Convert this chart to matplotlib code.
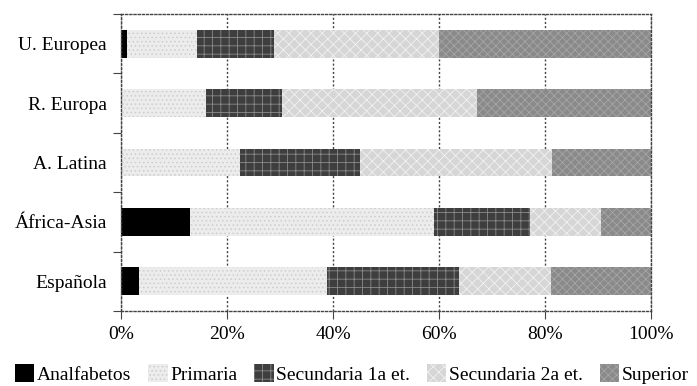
import matplotlib
matplotlib.use("Agg")
import matplotlib.pyplot as plt
import numpy as np
from matplotlib.ticker import FixedLocator, PercentFormatter

plt.rcParams['font.family'] = ['Liberation Serif', 'DejaVu Serif']
plt.rcParams['hatch.linewidth'] = 0.6

# data (percent of each group)
groups = ["U. Europea", "R. Europa", "A. Latina", "África-Asia", "Española"]
analfabetos = [1.1, 0.0, 0.0, 13.0, 3.4]
primaria = [13.2, 16.0, 22.5, 46.0, 35.4]
secundaria_1 = [14.6, 14.4, 22.6, 18.1, 24.9]
secundaria_2 = [31.1, 36.8, 36.2, 13.4, 17.4]
superior = [40.0, 32.8, 18.7, 9.5, 18.9]

series = [
    ("Analfabetos", analfabetos, "#000000", "#000000", None),
    ("Primaria", primaria, "#ececec", "#cdcdcd", "...."),
    ("Secundaria 1a et.", secundaria_1, "#3e3e3e", "#8a8a8a", "++"),
    ("Secundaria 2a et.", secundaria_2, "#d6d6d6", "#f2f2f2", "xxx"),
    ("Superior", superior, "#8a8a8a", "#a6a6a6", "xxxx"),
]

fig = plt.figure(figsize=(6.97, 3.86), dpi=100)
ax = fig.add_axes([121 / 697, 1 - 311 / 386, 530 / 697, 297 / 386])

y = np.arange(len(groups))
left = np.zeros(len(groups))
for name, vals, face, hcol, hatch in series:
    vals = np.array(vals)
    ax.barh(y, vals, left=left, height=0.47, color=face, edgecolor=hcol,
            hatch=hatch, linewidth=0, label=name, zorder=2)
    left += vals

ax.set_xlim(0, 100)
ax.set_ylim(len(groups) - 0.5, -0.5)
ax.set_xticks(np.arange(0, 101, 20))
ax.xaxis.set_major_formatter(PercentFormatter(decimals=0))
ax.set_yticks(y)
ax.set_yticklabels(groups)
ax.yaxis.set_minor_locator(FixedLocator(np.arange(-0.5, len(groups), 1)))

ax.tick_params(axis="y", which="major", length=0, pad=10, labelsize=14)
ax.tick_params(axis="y", which="minor", length=6, width=0.8, color="#444444")
ax.tick_params(axis="x", length=6, width=0.8, color="#444444", pad=5, labelsize=14)

dash = (0, (1.5, 1.5))
ax.grid(axis="x", linestyle=dash, color="#444444", linewidth=1.0, zorder=0)
for s in ax.spines.values():
    s.set_linestyle(dash)
    s.set_color("#444444")
    s.set_linewidth(1.0)

fig.legend(loc="center", bbox_to_anchor=(0.505, 0.031), ncol=5, frameon=False,
           fontsize=14, handlelength=1.0, handleheight=1.0, handletextpad=0.15,
           columnspacing=0.85, borderpad=0, borderaxespad=0)

fig.savefig("out.png", dpi=100)
